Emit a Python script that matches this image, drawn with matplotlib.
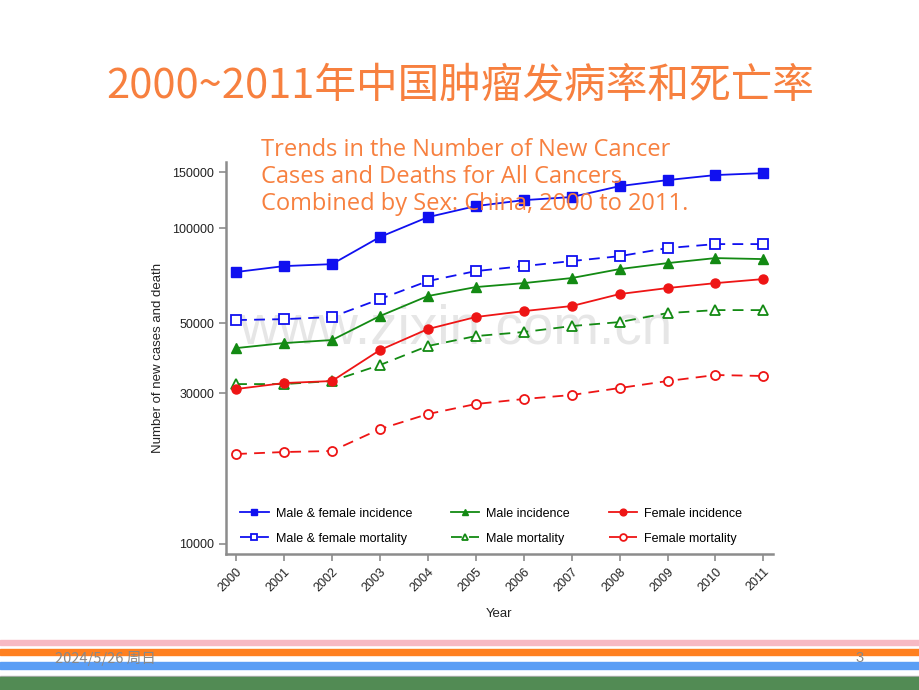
import matplotlib.pyplot as plt
import matplotlib.patches as mpatches
import numpy as np

# -----------------------
# DATA
# -----------------------
years = list(range(2000, 2012))
mf_incidence = [72600, 75800, 76900, 93700, 108300, 117400, 122600, 125400, 135800, 141900, 147200, 149300]
mf_mortality = [51150, 51500, 52300, 59600, 67960, 73100, 75800, 78640, 81500, 86450, 89000, 89000]
m_incidence = [41700, 43260, 44220, 52670, 60940, 65060, 66960, 69480, 74170, 77480, 80370, 79780]
m_mortality = [32080, 32080, 32800, 36850, 42330, 45520, 46880, 48960, 50410, 53830, 55010, 55010]
f_incidence = [30940, 32320, 32800, 41100, 47900, 52300, 54600, 56650, 61830, 64600, 66960, 68970]
f_mortality = [19270, 19550, 19700, 23110, 25780, 27740, 28770, 29620, 31170, 32800, 34270, 34030]
y_ticks = [10000, 30000, 50000, 100000, 150000]

title = '2000~2011年中国肿瘤发病率和死亡率'
note = ('Trends in the Number of New Cancer\n'
        'Cases and Deaths for All Cancers\n'
        'Combined by Sex: China, 2000 to 2011.')

orange = '#F7803F'
blue = '#1010F0'
green = '#138A13'
red = '#EE1515'

fig = plt.figure(figsize=(9.2, 6.9), dpi=100)
fig.patch.set_facecolor('white')

# -----------------------
# Footer stripes
# -----------------------
def stripe(y0, y1, color):
    fig.patches.append(mpatches.Rectangle((0, 1 - y1 / 690), 1, (y1 - y0) / 690,
                                          transform=fig.transFigure, color=color, zorder=0))

stripe(640, 645, '#F7B9C4')
stripe(649, 655, '#FF8020')
stripe(662, 669, '#5B9EF5')
stripe(675.5, 676.5, '#B0B0B0')
stripe(677, 690, '#528B54')

fig.text(55 / 920, 1 - 658 / 690, '2024/5/26 周日', color='#888888', fontsize=10.5,
         family=['Noto Sans CJK SC', 'DejaVu Sans'], va='center', ha='left')
fig.text(864 / 920, 1 - 658 / 690, '3', color='#888888', fontsize=10.5,
         family=['Liberation Sans'], va='center', ha='right')

# -----------------------
# Title
# -----------------------
fig.text(460 / 920, 1 - 86 / 690, title, color=orange, fontsize=30,
         family=['Noto Sans CJK SC', 'DejaVu Sans'], ha='center', va='center')

# -----------------------
# Chart
# -----------------------
ax = fig.add_axes([226 / 920, 1 - 554 / 690, (773 - 226) / 920, (554 - 162) / 690])
ax.patch.set_alpha(0)

ax.text(456 / 920, 1 - 329 / 690, 'www.zixin.com.cn', transform=fig.transFigure,
        color='#E6E6E6', fontsize=39.5, family=['Liberation Sans'],
        ha='center', va='center', zorder=0.5)

kw = dict(lw=1.3, ms=6.5)
ax.plot(years, mf_incidence, '-', color=blue, marker='s', label='Male & female incidence', **kw)
ax.plot(years, mf_mortality, '--', color=blue, marker='s', mfc='white', mew=1.3,
        dashes=(6, 4), label='Male & female mortality', **kw)
ax.plot(years, m_incidence, '-', color=green, marker='^', label='Male incidence', **kw)
ax.plot(years, m_mortality, '--', color=green, marker='^', mfc='white', mew=1.3,
        dashes=(6, 4), label='Male mortality', **kw)
ax.plot(years, f_incidence, '-', color=red, marker='o', label='Female incidence', **kw)
ax.plot(years, f_mortality, '--', color=red, marker='o', mfc='white', mew=1.3,
        dashes=(6, 4), label='Female mortality', **kw)

ax.set_yscale('log')
ax.set_ylim(9297, 161900)
ax.set_xlim(1999.79, 2011.2)
ax.set_yticks(y_ticks)
ax.set_yticklabels([str(v) for v in y_ticks])
ax.yaxis.set_minor_locator(plt.NullLocator())
ax.set_xticks(years)
ax.set_xticklabels([str(y) for y in years], rotation=45, ha='right', rotation_mode='anchor')

for side in ['top', 'right']:
    ax.spines[side].set_visible(False)
for side in ['left', 'bottom']:
    ax.spines[side].set_color('#8C8C8C')
    ax.spines[side].set_linewidth(1.8)
ax.tick_params(colors='#8C8C8C', labelcolor='#222222', length=5, width=1.2,
               labelsize=9)
for lab in ax.get_xticklabels() + ax.get_yticklabels():
    lab.set_family('Liberation Sans')

ax.set_ylabel('Number of new cases and death', fontsize=9.5, family='Liberation Sans',
              color='#222222', labelpad=6)
ax.set_xlabel('Year', fontsize=9.5, family='Liberation Sans', color='#222222', labelpad=10)

ax.legend(ncol=3, loc='lower left', bbox_to_anchor=(0.005, -0.005), frameon=False,
          prop={'family': 'Liberation Sans', 'size': 9}, handlelength=2.3,
          columnspacing=3.1, labelspacing=1.05, handletextpad=0.55, markerscale=0.75)

# -----------------------
# Note over the chart
# -----------------------
fig.text(261 / 920, 1 - 138 / 690, note, color=orange, fontsize=17,
         family=['Open Sans', 'DejaVu Sans'], ha='left', va='top', linespacing=1.17,
         zorder=5)

fig.savefig('out.png', dpi=100)
